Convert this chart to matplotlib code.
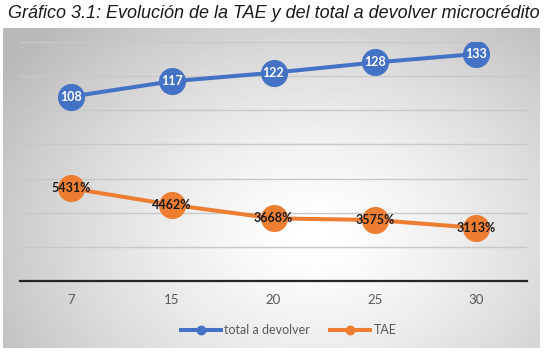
import matplotlib
matplotlib.use("Agg")
import matplotlib.pyplot as plt
import numpy as np

plazos = ["7", "15", "20", "25", "30"]
total_devolver = [108, 117, 122, 128, 133]
tae = [54.31, 44.62, 36.68, 35.75, 31.13]  # shown as value*100 %

blue = "#4472C4"
orange = "#ED7D31"
grey_txt = "#595959"

fig = plt.figure(figsize=(5.46, 3.52), dpi=100)
W, H = 546, 352

# chart area background (radial grey gradient)
bg = fig.add_axes([3 / W, 1 - 348 / H, 537 / W, 320 / H])
yy, xx = np.mgrid[0:1:200j, 0:1:300j]
r = np.sqrt(((xx - 0.58) / 0.7) ** 2 + ((yy - 0.65) / 0.9) ** 2)
r = np.clip(r, 0, 1)
shade = 1 - 0.27 * r ** 1.4
bg.imshow(shade, cmap="gray", vmin=0, vmax=1, aspect="auto",
          extent=[0, 1, 0, 1], origin="upper")
bg.set_axis_off()

ax = fig.add_axes([20 / W, 1 - 281 / H, 507 / W, 239 / H])
ax.patch.set_alpha(0)
x = np.arange(len(plazos))

ax.plot(x, total_devolver, color=blue, lw=2.9, marker="o", ms=18.5,
        label="total a devolver", zorder=3)
ax.plot(x, tae, color=orange, lw=2.9, marker="o", ms=18.5,
        label="TAE", zorder=3)

lab_font = dict(family="Lato", fontsize=9, fontweight="bold")
for xi, v in zip(x, total_devolver):
    ax.text(xi, v, str(v), color="white", ha="center", va="center",
            zorder=4, **lab_font)
for xi, v in zip(x, tae):
    ax.text(xi, v, "%d%%" % round(v * 100), color="#1a1a1a", ha="center",
            va="center", zorder=4, **lab_font)

ax.set_xlim(-0.5, 4.5)
ax.set_ylim(0, 140)
ax.set_yticks(np.arange(20, 141, 20))
ax.yaxis.grid(True, color="#c8c8c8", lw=1)
ax.set_axisbelow(True)
ax.tick_params(axis="y", left=False, labelleft=False)
ax.set_xticks(x)
ax.set_xticklabels(plazos, family="Lato", fontsize=9.5, color=grey_txt)
ax.tick_params(axis="x", length=0, pad=9)
for s in ["top", "right", "left"]:
    ax.spines[s].set_visible(False)
ax.spines["bottom"].set_color("#262626")
ax.spines["bottom"].set_linewidth(1.6)

leg = ax.legend(loc="center", bbox_to_anchor=(0.53, -0.205),
                ncol=2, frameon=False, markerscale=0.33, handlelength=3.2,
                columnspacing=1.6, handletextpad=0.3,
                prop=dict(family="Lato", size=9))
for t in leg.get_texts():
    t.set_color(grey_txt)

fig.text(274 / W, 1 - 14 / H,
         "Gráfico 3.1: Evolución de la TAE y del total a devolver microcrédito",
         ha="center", va="center", fontsize=13, style="italic",
         family="Liberation Sans", color="#1a1a1a")

fig.savefig("out.png", dpi=100)
